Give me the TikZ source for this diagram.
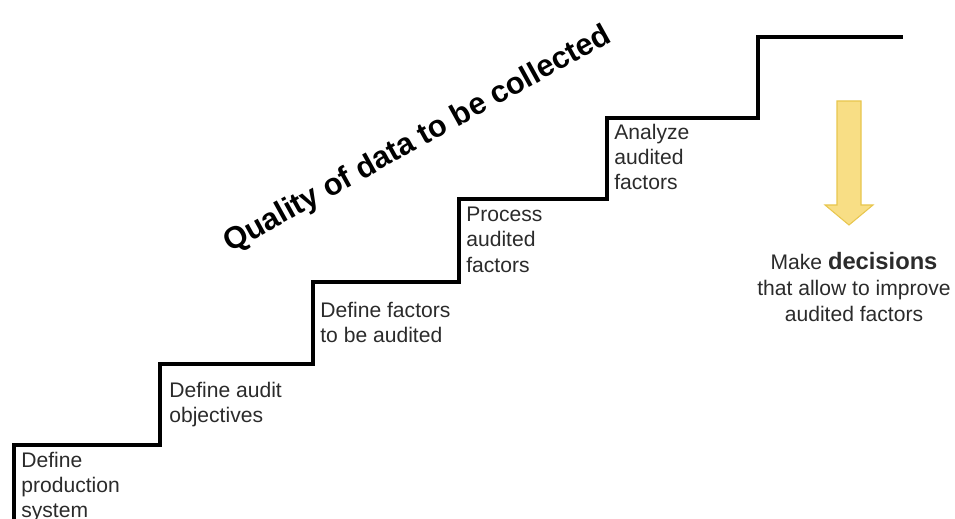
\documentclass[tikz,border=0pt]{standalone}
\usepackage{fontspec}
\setmainfont{Liberation Sans}
\definecolor{stepink}{HTML}{2B2B2B}
\definecolor{arrowfill}{HTML}{F8DE85}
\definecolor{arrowedge}{HTML}{E8C64E}
\tikzset{
  stair/.style={line width=1.8pt, black},
  steplabel/.style={anchor=north west, inner sep=0pt, align=left, text=stepink,
    font=\fontsize{12}{14.3}\selectfont},
}
\begin{document}
\begin{tikzpicture}[x=0.02cm, y=-0.02cm]
    \useasboundingbox (0,0) rectangle (955,519);
    % staircase
    \coordinate (p0) at (14,519);
    \coordinate (p1) at (160,445);
    \coordinate (p2) at (313,364);
    \coordinate (p3) at (459,282);
    \coordinate (p4) at (607,199);
    \coordinate (p5) at (758,118);
    \coordinate (p6) at (903,37);
    \draw[stair] (p0) |- (p1) |- (p2) |- (p3) |- (p4) |- (p5) |- (p6);
    % step texts
    \node[steplabel] (sys) at (21,452) {Define\\production\\system};
    \node[steplabel] (obj) at (169,382) {Define audit\\objectives};
    \node[steplabel] (fac) at (320,302) {Define factors\\to be audited};
    \node[steplabel] (proc) at (466,207) {Process\\audited\\factors};
    \node[steplabel] (ana) at (614,124) {Analyze\\audited\\factors};
    % title
    \node[rotate=29, font=\fontsize{17.5}{20}\bfseries] (title)
        at (418,140) {Quality of data to be collected};
    % yellow arrow
    \draw[fill=arrowfill, draw=arrowedge, line width=0.6pt]
        (837,101) -- (861,101) -- (861,205) -- (873,205) -- (849,225)
        -- (825,205) -- (837,205) -- cycle;
    \node[align=center, text=stepink, font=\fontsize{12}{14.8}\selectfont] (dec)
        at (854,287) {Make {\fontsize{13.5}{14.8}\selectfont\bfseries decisions}\\
        that allow to improve\\audited factors};
\end{tikzpicture}
\end{document}
